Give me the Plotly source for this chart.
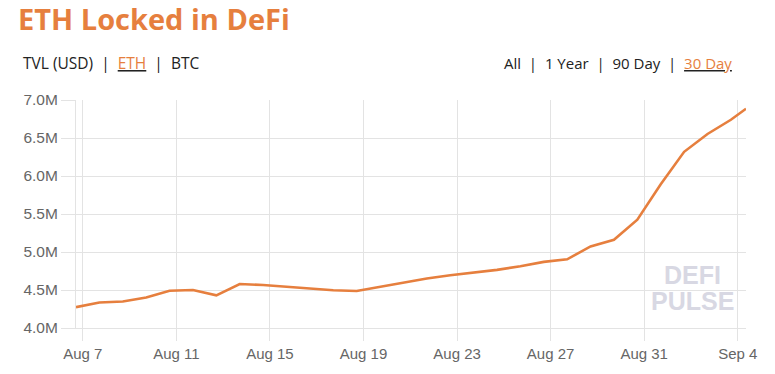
import plotly.graph_objects as go
import pandas as pd

# Data: ETH locked in DeFi (30-day view), values in millions of ETH
dates = list(pd.date_range("2020-08-06 17:00", periods=29, freq="D").strftime("%Y-%m-%d %H:%M")) + ["2020-09-04 08:30"]
eth_locked_m = [4.274, 4.335, 4.348, 4.40, 4.49, 4.50, 4.43, 4.578, 4.565, 4.54,
                4.515, 4.496, 4.487, 4.544, 4.60, 4.652, 4.695, 4.726, 4.765, 4.813,
                4.87, 4.904, 5.074, 5.16, 5.426, 5.89, 6.318, 6.553, 6.74, 6.885]
eth_locked = [v * 1e6 for v in eth_locked_m]

y_ticks = [4.0e6, 4.5e6, 5.0e6, 5.5e6, 6.0e6, 6.5e6, 7.0e6]
y_tick_text = ["4.0M", "4.5M", "5.0M", "5.5M", "6.0M", "6.5M", "7.0M"]

ORANGE = "#E67F3E"
GRID = "#e3e3e3"

fig = go.Figure()
fig.add_trace(go.Scatter(
    x=dates, y=eth_locked, mode="lines",
    line=dict(color=ORANGE, width=2.6, shape="linear"),
    hoverinfo="skip", showlegend=False,
))

fig.update_layout(
    width=775, height=374,
    margin=dict(l=76, r=29, t=100, b=44),
    paper_bgcolor="white", plot_bgcolor="white",
    font=dict(family="Liberation Sans, Arial, sans-serif", size=15, color="#666666"),
    xaxis=dict(
        range=[dates[0], dates[-1]],
        tick0="2020-08-07", dtick=4 * 86400000, tickformat="%b %-d",
        showgrid=True, gridcolor=GRID, gridwidth=1,
        ticks="outside", ticklen=12, tickcolor=GRID,
        showline=True, linecolor=GRID, linewidth=1,
        zeroline=False, fixedrange=True,
        tickfont=dict(size=15, color="#666666"),
    ),
    yaxis=dict(
        range=[4.0e6, 7.0e6],
        tickvals=y_ticks, ticktext=y_tick_text,
        showgrid=True, gridcolor=GRID, gridwidth=1,
        ticks="outside", ticklen=14, tickcolor=GRID,
        showline=True, linecolor=GRID, linewidth=1,
        zeroline=False, fixedrange=True,
        tickfont=dict(size=15.5, color="#666666"),
    ),
)

annotations = [
    dict(text="<b>ETH Locked in DeFi</b>", x=16, y=374 - 18,
         font=dict(family="Open Sans, sans-serif", size=29, color=ORANGE)),
    dict(text="TVL (USD)  |  <u><span style='color:%s'>ETH</span></u>  |  BTC" % ORANGE,
         x=21, y=374 - 63,
         font=dict(family="Open Sans, sans-serif", size=15.5, color="#222222")),
    dict(text="All  |  1 Year  |  90 Day  |  <u><span style='color:%s'>30 Day</span></u>" % ORANGE,
         x=734, y=374 - 63, xanchor="right",
         font=dict(family="Open Sans, sans-serif", size=15, color="#222222")),
]

for a in annotations:
    xa = a.get("xanchor", "left")
    fig.add_annotation(
        text=a["text"], xref="paper", yref="paper",
        x=(a["x"] - 76) / (775 - 76 - 29), y=(a["y"] - 44) / (374 - 100 - 44),
        xanchor=xa, yanchor="middle", showarrow=False, font=a["font"],
    )

# watermark
for txt, yc in [("<b>DEFI</b>", 277), ("<b>PULSE</b>", 303)]:
    fig.add_annotation(
        text=txt, xref="paper", yref="paper",
        x=(692 - 76) / 670, y=(374 - yc - 44) / 230,
        xanchor="center", yanchor="middle", showarrow=False,
        font=dict(family="Liberation Sans, Arial, sans-serif", size=25, color="#d8d8e3"),
    )

fig.write_html("out.html", config={"displayModeBar": False, "staticPlot": True},
               post_script="document.body.style.margin='0px';document.body.style.overflow='hidden';")
